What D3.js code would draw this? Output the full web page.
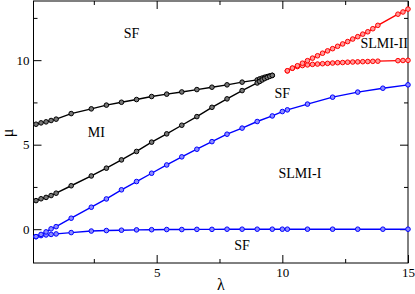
<!DOCTYPE html>
<html>
<head>
<meta charset="utf-8">
<script src="https://cdn.jsdelivr.net/npm/d3@7"></script>
<style>
	body { margin: 0; background: #fff; }
	svg { display: block; }
	.axis text { font-family: "Liberation Serif", "DejaVu Serif", serif; font-size: 13px; fill: #000; }
	.axis line { stroke: #000; stroke-width: 1; }
	.axis path { display: none; }
	.region { font-family: "Liberation Serif", "DejaVu Serif", serif; font-size: 14px; fill: #000; }
	.axis-title { font-family: "Liberation Serif", "DejaVu Serif", serif; font-size: 16px; fill: #000; }
</style>
</head>
<body>
<svg id="chart" width="415" height="294"></svg>
<script>
// lambda grid shared by the blue curves
var lambdaBlue = [0.2, 0.4, 0.6, 0.8, 1.0, 1.6, 2.4, 3.0, 3.6, 4.2, 4.8, 5.4, 6.0, 6.6,
	7.2, 7.8, 8.4, 9.0, 9.6, 10.0, 10.2, 11, 12, 13, 14, 15];
var muBlueUpper = [-0.44, -0.31, -0.16, 0.02, 0.15, 0.65, 1.30, 1.79, 2.33, 2.82, 3.31, 3.80, 4.28, 4.73,
	5.18, 5.62, 5.98, 6.37, 6.70, 6.96, 7.06, 7.40, 7.81, 8.11, 8.34, 8.54];
var muBlueLower = [-0.44, -0.38, -0.34, -0.31, -0.28, -0.20, -0.11, -0.08, -0.06, -0.04, -0.03, -0.02, -0.02, -0.01,
	-0.01, 0, 0, 0, 0, 0, 0, 0, 0, 0, 0, 0];

// MI lobe (black)
var lambdaBlack = [0.2, 0.4, 0.6, 0.8, 1.0, 1.6, 2.4, 3.0, 3.6, 4.2, 4.8, 5.4, 6.0, 6.6,
	7.2, 7.8, 8.4, 9.0, 9.1, 9.2, 9.3, 9.4, 9.5, 9.6];
var muBlackUpper = [6.21, 6.29, 6.35, 6.43, 6.51, 6.84, 7.12, 7.34, 7.51, 7.67, 7.85, 7.99, 8.12, 8.26,
	8.40, 8.54, 8.70, 8.83, 8.89, 8.94, 8.99, 9.03, 9.07, 9.10];
var muBlackLower = [1.69, 1.80, 1.88, 1.99, 2.13, 2.57, 3.15, 3.61, 4.10, 4.60, 5.15, 5.64, 6.15, 6.66,
	7.21, 7.71, 8.20, 8.65, 8.74, 8.83, 8.91, 8.98, 9.04, 9.10];

// SLMI-II lobe (red)
var lambdaRed = [10.2, 10.4, 10.6, 10.8, 11.0, 11.2, 11.4, 11.6, 11.8, 12.0, 12.2, 12.4, 12.6, 12.8,
	13.0, 13.2, 13.4, 13.6, 13.8, 14.6, 14.8, 15.0];
var muRedUpper = [9.37, 9.53, 9.67, 9.82, 9.97, 10.12, 10.26, 10.41, 10.55, 10.68, 10.82, 10.96, 11.10, 11.25,
	11.39, 11.54, 11.68, 11.86, 12.06, 12.72, 12.85, 13.02];
var muRedLower = [9.37, 9.52, 9.62, 9.68, 9.72, 9.75, 9.77, 9.79, 9.81, 9.83, 9.85, 9.86, 9.88, 9.89,
	9.90, 9.91, 9.92, 9.93, 9.94, 9.97, 9.98, 9.99];

var xMajorTicks = [5, 10, 15];
var xMinorTicks = [2.5, 7.5, 12.5];
var yMajorTicks = [0, 5, 10];
var yMinorTicks = [2.5, 7.5, 12.5];

var regionLabels = [
	{text: "SF", x: 4.0, y: 11.6},
	{text: "MI", x: 2.6, y: 5.7},
	{text: "SF", x: 10.0, y: 8.05},
	{text: "SLMI-II", x: 14.05, y: 11.0},
	{text: "SLMI-I", x: 10.7, y: 3.3},
	{text: "SF", x: 8.4, y: -0.95}
];


var frame = {left: 33.5, top: 1, right: 408, bottom: 263};

var svg = d3.select("#chart");

var xScale = d3.scaleLinear()
	.domain([0.1, 15])
	.range([frame.left, frame.right]);
var yScale = d3.scaleLinear()
	.domain([-2, 13.5])
	.range([frame.bottom, frame.top]);

function zip(xs, ys) {
	return xs.map(function(d, i){
		return [d, ys[i]];
	});
}

function drawCurve(points, stroke, fill) {
	var line = d3.line()
		.x(function(d){ return xScale(d[0]); })
		.y(function(d){ return yScale(d[1]); });
	var g = svg.append("g");
	g.append("path")
		.datum(points)
		.attr("d", line)
		.attr("fill", "none")
		.attr("stroke", stroke)
		.attr("stroke-width", 1.4);
	g.selectAll("circle")
		.data(points).enter()
		.append("circle")
		.attr("cx", function(d){ return xScale(d[0]); })
		.attr("cy", function(d){ return yScale(d[1]); })
		.attr("r", 2.3)
		.attr("fill", fill)
		.attr("stroke", stroke)
		.attr("stroke-width", 1);
}

function addAxes() {
	var h = frame.bottom - frame.top;
	var w = frame.right - frame.left;
	// major ticks, all pointing inward
	svg.append("g").attr("class", "axis")
		.attr("transform", "translate(0," + frame.bottom + ")")
		.call(d3.axisBottom(xScale).tickValues(xMajorTicks).tickSizeInner(-8).tickSizeOuter(0).tickPadding(5).tickFormat(d3.format("d")));
	svg.append("g").attr("class", "axis")
		.attr("transform", "translate(0," + frame.top + ")")
		.call(d3.axisTop(xScale).tickValues(xMajorTicks).tickSizeInner(-8).tickSizeOuter(0).tickFormat(""));
	svg.append("g").attr("class", "axis")
		.attr("transform", "translate(" + frame.left + ",0)")
		.call(d3.axisLeft(yScale).tickValues(yMajorTicks).tickSizeInner(-8).tickSizeOuter(0).tickPadding(4).tickFormat(d3.format("d")));
	svg.append("g").attr("class", "axis")
		.attr("transform", "translate(" + frame.right + ",0)")
		.call(d3.axisRight(yScale).tickValues(yMajorTicks).tickSizeInner(-8).tickSizeOuter(0).tickFormat(""));
	// minor ticks
	svg.append("g").attr("class", "axis")
		.attr("transform", "translate(0," + frame.bottom + ")")
		.call(d3.axisBottom(xScale).tickValues(xMinorTicks).tickSize(-4).tickFormat(""));
	svg.append("g").attr("class", "axis")
		.attr("transform", "translate(0," + frame.top + ")")
		.call(d3.axisTop(xScale).tickValues(xMinorTicks).tickSize(-4).tickFormat(""));
	svg.append("g").attr("class", "axis")
		.attr("transform", "translate(" + frame.left + ",0)")
		.call(d3.axisLeft(yScale).tickValues(yMinorTicks).tickSize(-4).tickFormat(""));
	svg.append("g").attr("class", "axis")
		.attr("transform", "translate(" + frame.right + ",0)")
		.call(d3.axisRight(yScale).tickValues(yMinorTicks).tickSize(-4).tickFormat(""));
	// frame
	svg.append("rect")
		.attr("x", frame.left).attr("y", frame.top)
		.attr("width", w).attr("height", h)
		.attr("fill", "none").attr("stroke", "#000").attr("stroke-width", 1);
}

addAxes();

drawCurve(zip(lambdaBlue, muBlueLower), "#0000ff", "#8c8cff");
drawCurve(zip(lambdaBlue, muBlueUpper), "#0000ff", "#8c8cff");
drawCurve(zip(lambdaBlack, muBlackUpper), "#000", "#777");
drawCurve(zip(lambdaBlack, muBlackLower), "#000", "#777");
drawCurve(zip(lambdaRed, muRedLower), "#ff0000", "#ff9a9a");
drawCurve(zip(lambdaRed, muRedUpper), "#ff0000", "#ff9a9a");

svg.selectAll("text.region")
	.data(regionLabels).enter()
	.append("text")
	.attr("class", "region")
	.attr("x", function(d){ return xScale(d.x); })
	.attr("y", function(d){ return yScale(d.y); })
	.attr("text-anchor", "middle")
	.attr("dominant-baseline", "central")
	.text(function(d){ return d.text; });

// axis titles
svg.append("text")
	.attr("class", "axis-title")
	.attr("x", 221).attr("y", 290)
	.attr("text-anchor", "middle")
	.text("λ");
svg.append("text")
	.attr("class", "axis-title")
	.attr("transform", "translate(13,133) rotate(-90)")
	.attr("text-anchor", "middle")
	.text("μ");
</script>
</body>
</html>
